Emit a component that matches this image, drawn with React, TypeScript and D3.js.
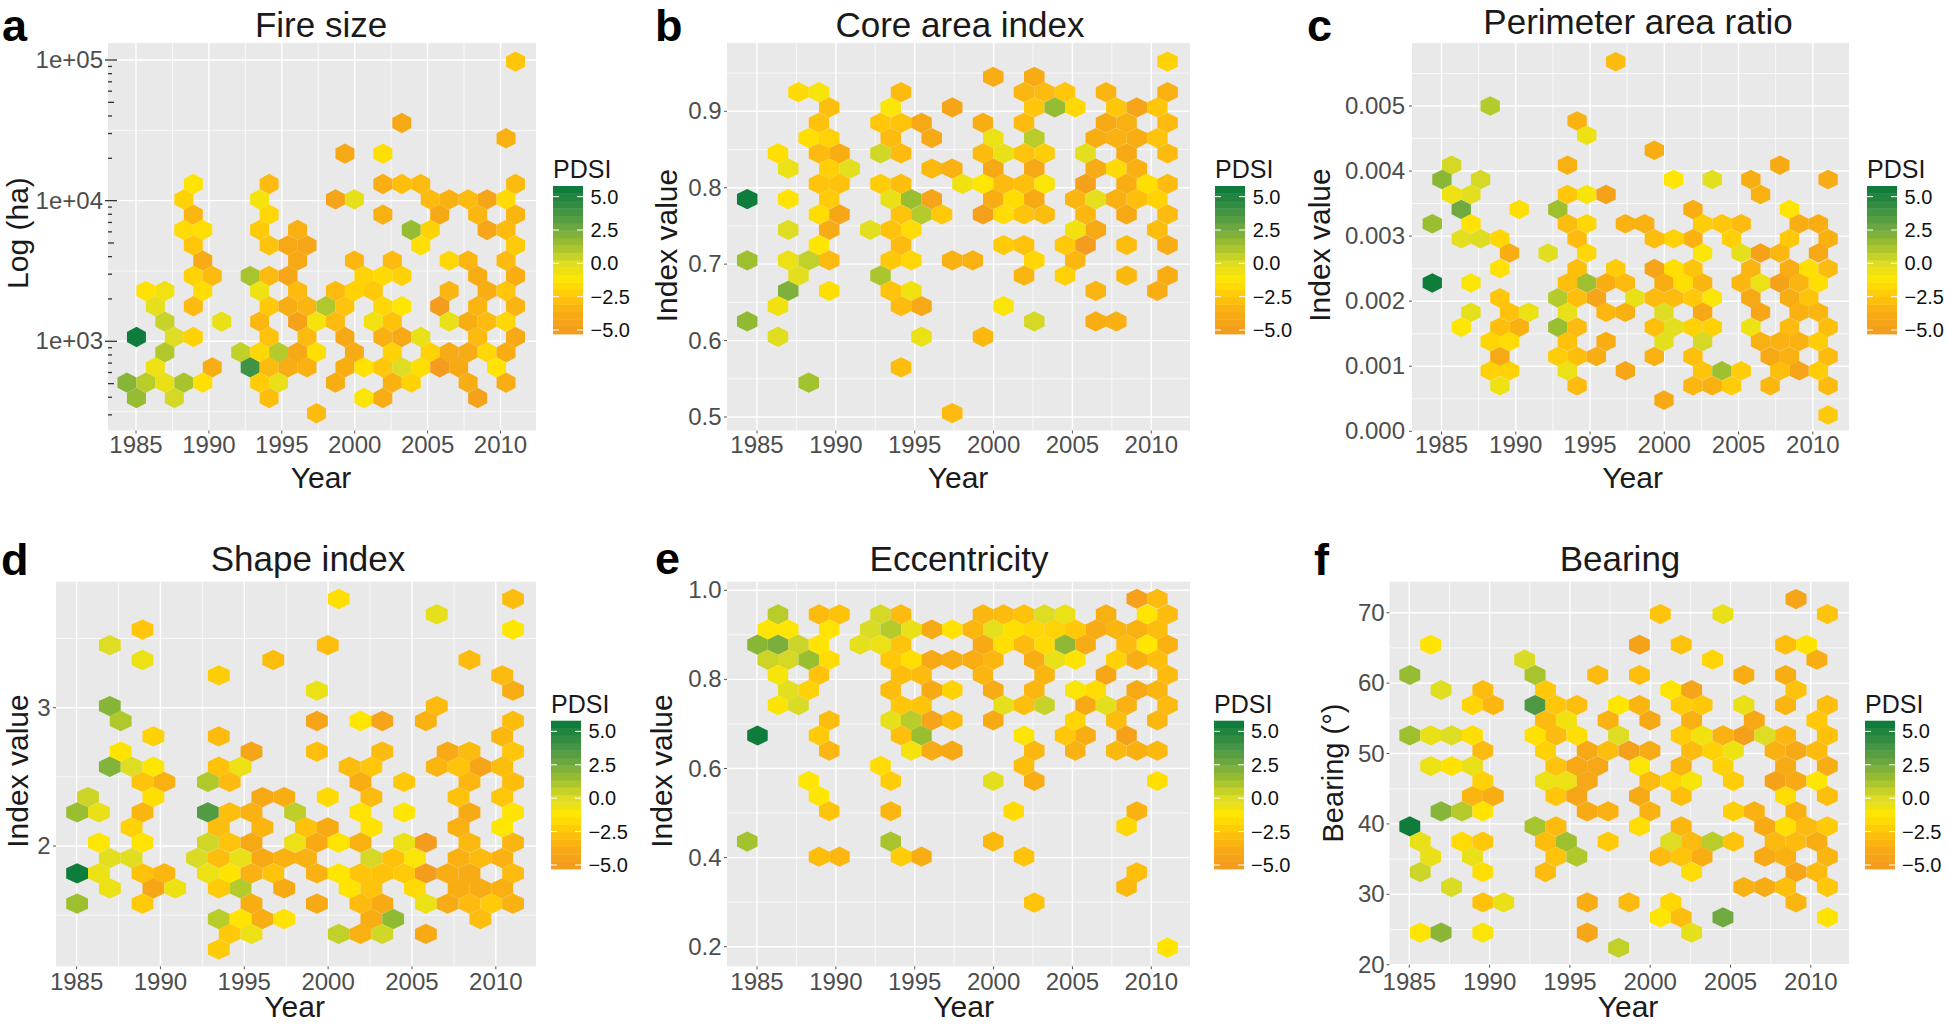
import React from "react";
import * as d3 from "d3";

// Each row: [y value of the hexagon row, bin, PDSI, bin, PDSI, ...]
const fireSizeRows: number[][] = [
  [97300, 40, -2.5],
  [35650, 28, -4],
  [27750, 39, -3.5],
  [21600, 22, -4, 26, -1.5],
  [13130, 6, -1.3, 14, -3, 26, -3.6, 28, -2.8, 30, -3, 40, -3],
  [10220, 5, -2, 13, -0.8, 21, -4.4, 23, -0.3, 31, -3, 33, -3.5, 35, -3, 37, -4.3, 39, -1.7],
  [7950, 6, -3.2, 14, -1.8, 26, -3.5, 32, -4, 36, -3.2, 40, -3.3],
  [6190, 5, -1.7, 7, -1.5, 13, -2.3, 17, -3.5, 29, 1.6, 31, -2, 37, -4.2, 39, -3],
  [4810, 6, -2.5, 14, -2.6, 16, -4, 18, -4.2, 30, -1.5, 40, -2.3],
  [3745, 7, -3.8, 17, -4, 23, -3.2, 27, -3, 33, -1.8, 35, -3.2, 39, -3],
  [2915, 6, -2, 8, -3, 12, 1.2, 14, -3, 16, -4.2, 24, -2, 26, -1.7, 28, -2, 36, -3.6, 40, -3.6],
  [2280, 1, -1.4, 3, -0.7, 7, -1.6, 13, -0.6, 17, -3, 21, -3, 23, -2, 25, -2.4, 33, -3.3, 37, -3.7, 39, -2.5],
  [1775, 2, -0.3, 6, -3, 14, -2.4, 16, -3.6, 18, -3.3, 20, 1, 22, -2.6, 26, -1.8, 28, -1.2, 32, -5, 36, -3.3, 40, -3.3],
  [1380, 3, 0.5, 9, -0.4, 13, -3.2, 17, -4.6, 19, -0.8, 21, -3, 25, -0.7, 27, -2.7, 33, -0.4, 35, -3.6, 37, -3, 39, -1.8],
  [1073, 0, 5.6, 4, 0, 6, -2, 14, -2.7, 18, -3, 22, -4, 26, -3.5, 28, -4, 30, -0.4, 36, -3, 40, -3.9],
  [835, 3, 1, 11, 0.6, 13, -1.8, 15, 0.9, 17, -4, 19, -1.5, 23, -3.8, 27, -2, 31, -2, 33, -3.8, 35, -3.8, 37, -1.8, 39, -3.6],
  [653, 2, -0.6, 8, -3.7, 12, 4, 14, -3, 16, -3.6, 18, -3.4, 22, -3.6, 24, -1.4, 26, -2.5, 28, 0, 30, -1.5, 32, -5, 34, -3.9, 38, -1.3],
  [508, -1, 2, 1, 0.8, 3, -0.4, 5, 1.2, 7, -1.5, 13, -2.2, 15, -0.4, 21, -3.6, 27, -3.4, 29, -2, 35, -3.6, 39, -3.6],
  [395, 0, 1.6, 4, 0.2, 14, -2.8, 24, -1, 26, -3.7, 36, -4.6],
  [308, 19, -3],
];

const coreAreaRows: number[][] = [
  [0.965, 40, -2],
  [0.945, 23, -3.6, 27, -3.8],
  [0.925, 4, -1.7, 6, -0.9, 14, -3, 26, -3.2, 28, -3, 30, -2.5, 34, -3.3, 40, -3.5],
  [0.905, 7, -2.8, 13, -1, 19, -4.3, 27, -2.5, 29, 1.6, 31, -1.8, 35, -2.5, 37, -4.3, 39, -2.5],
  [0.885, 6, -2.7, 12, -2.5, 14, -2.6, 16, -4, 22, -3.6, 26, -3, 34, -3.9, 36, -3.5, 40, -3],
  [0.865, 5, -1.5, 7, -2, 13, -3, 17, -4, 23, -0.5, 27, 0.8, 33, -3.6, 35, -3.4, 37, -3.6, 39, -2.6],
  [0.845, 2, -1.5, 6, -3, 8, -3.7, 12, 0.3, 14, -3, 22, -3, 24, -0.4, 26, -2.6, 28, -2.2, 32, -0.2, 36, -4, 40, -3],
  [0.825, 3, -0.5, 7, -2.1, 9, -0.2, 17, -3.1, 19, -3.4, 23, -4, 27, -4, 33, -3.8, 35, -1.7, 37, -3.5],
  [0.805, 6, -2.6, 8, -2.7, 12, -2.2, 14, -2.8, 20, -0.7, 22, -1.2, 24, -3, 26, -2.8, 28, -1, 32, -4.6, 36, -3.6, 38, -1.5, 40, -3],
  [0.785, -1, 5.6, 3, -1.3, 7, -2.3, 13, -0.4, 15, 1.5, 17, -4.4, 23, -3.7, 25, -1.6, 27, -3.9, 31, -3.3, 33, -0.3, 35, -3.5, 37, -2.8, 39, -2],
  [0.765, 6, -1.6, 8, -4.2, 14, -2.6, 16, 0.9, 18, -2.4, 22, -4.7, 24, -1.6, 26, -2.6, 28, -2.9, 32, -3.2, 36, -4, 40, -3],
  [0.745, 3, 0, 7, -3.8, 11, -0.2, 13, -2.7, 15, -1.6, 31, -0.7, 33, -4, 39, -2.9],
  [0.725, 6, -1.2, 14, -3, 24, -2.3, 26, -2.7, 30, -2.4, 32, -5, 36, -2.9, 40, -3.7],
  [0.705, -1, 1.4, 3, -0.5, 5, 0.6, 7, -3, 13, -2.4, 15, -1.8, 19, -3.4, 21, -3.4, 27, -1.8, 31, -3.2],
  [0.685, 4, -0.2, 12, 1.1, 26, -3.3, 30, -2, 36, -3.1, 40, -3.6],
  [0.665, 3, 2.2, 7, -1.5, 13, -2.6, 15, -0.7, 33, -3.3, 39, -3.6],
  [0.645, 2, -0.7, 14, -3, 16, -4.1, 24, -1],
  [0.625, -1, 1.7, 27, 0.2, 33, -3.7, 35, -3.5],
  [0.605, 2, -0.1, 16, -0.5, 22, -3.1],
  [0.565, 14, -2.9],
  [0.545, 5, 1.3],
  [0.505, 19, -3],
];

const perimeterRows: number[][] = [
  [0.00568, 18, -3],
  [0.005, 5, 0.9],
  [0.00477, 14, -3.4],
  [0.00455, 15, -0.6],
  [0.00432, 22, -3.7],
  [0.00409, 1, 0.2, 13, -3.5, 35, -3.9],
  [0.00387, 0, 1.9, 4, 0.2, 24, -1.2, 28, -0.2, 32, -3.6, 40, -3.8],
  [0.00364, 1, -0.6, 3, -0.2, 13, -2.5, 15, -0.9, 17, -4.5, 33, -3.5],
  [0.00341, 2, 2.6, 8, -1.5, 12, 1.4, 26, -3.6, 36, -1.3],
  [0.00319, -1, 1.5, 3, -1.4, 13, -2.9, 15, -1.8, 19, -3.4, 21, -3.4, 27, -2.2, 29, -2.5, 31, -3, 37, -3.6, 39, -3.6],
  [0.00296, 2, -0.2, 4, 0, 6, -1.8, 14, -3, 22, -2.9, 24, -2, 26, -3.4, 30, -2.1, 36, -2.4, 40, -3.5],
  [0.00274, 7, -3.6, 11, -0.1, 15, -1.8, 27, -1, 31, -0.3, 33, -4.5, 35, -3.2, 39, -4],
  [0.0025, 6, -1.4, 14, -2.8, 18, -2.3, 22, -4.4, 24, -1.5, 26, -2.6, 32, -3.3, 36, -3.6, 38, -1.5, 40, -3],
  [0.00228, -1, 5.6, 3, -1, 13, -2.8, 15, 1.4, 17, -3.6, 19, -3, 23, -3.7, 25, -1.5, 27, -3.3, 31, -3.2, 33, -0.5, 35, -4.5, 37, -3.3, 39, -1.5],
  [0.00205, 6, -2.5, 12, 0.9, 14, -2.8, 16, -4.3, 20, -0.4, 22, -3, 24, -3, 26, -2.4, 28, -1, 32, -4, 36, -3.7, 38, -2.6],
  [0.00183, 3, -0.3, 7, -2.7, 9, -0.5, 13, -0.4, 17, -3.2, 19, -3.5, 23, 0, 27, -4, 33, -4.2, 37, -3.5, 39, -3.2],
  [0.0016, 2, -1.2, 6, -2.8, 8, -3.5, 12, 1.5, 14, -3, 22, -2.8, 24, -0.2, 26, -2, 28, -2, 32, -0.6, 36, -3, 40, -2.8],
  [0.00138, 5, -1.9, 7, -1.6, 13, -2.7, 17, -3.7, 23, -0.2, 27, 0.2, 33, -3.5, 35, -3.4, 37, -3.4, 39, -2.2],
  [0.00115, 6, -4, 12, -2.2, 14, -2.8, 16, -3.6, 22, -3.5, 26, -2.8, 34, -4, 36, -3.5, 40, -3],
  [0.00093, 5, -2, 7, -2, 13, -0.5, 19, -4.2, 27, -2.6, 29, 1.4, 31, -2.2, 35, -2.8, 37, -4.3, 39, -2.2],
  [0.0007, 6, -0.6, 14, -3, 26, -3.2, 28, -3.5, 30, -2.2, 34, -3.2, 40, -3],
  [0.00048, 23, -4],
  [0.00025, 40, -2.4],
];

const shapeRows: number[][] = [
  [3.786, 24, -1.5, 40, -2.9],
  [3.675, 33, -0.3],
  [3.564, 6, -2.5, 40, -1.2],
  [3.453, 3, 0, 23, -2.8],
  [3.345, 6, -0.5, 18, -2.9, 36, -3],
  [3.234, 13, -2.2, 39, -3],
  [3.123, 22, -0.5, 40, -3.6],
  [3.012, 3, 2, 33, -3],
  [2.904, 4, 1, 22, -4.3, 26, -1.2, 28, -4.4, 32, -3.4, 40, -2.9],
  [2.793, 7, -2, 13, -3, 39, -3.2],
  [2.682, 4, -1.3, 16, -4.3, 22, -2.8, 28, -3, 34, -3.9, 36, -3, 40, -2.5],
  [2.573, 3, 2.1, 5, 0, 7, -1.2, 13, -2.7, 15, -0.5, 25, -2.9, 27, -2.5, 33, -3.3, 35, -2.6, 37, -4.3, 39, -2.9],
  [2.463, 6, -2.6, 8, -3.5, 12, 1, 14, -3, 26, -3.7, 30, -2.4, 36, -3.2, 40, -2.9],
  [2.354, 1, 0.4, 7, -1.5, 17, -4, 19, -3.6, 23, -1.7, 27, -3, 35, -2.7, 39, -2.5],
  [2.243, 0, 1.5, 2, -0.4, 6, -3.3, 12, 3.5, 14, -2.8, 16, -3.4, 20, 0.7, 26, -1.3, 30, -1.2, 36, -3.9, 40, -1.3],
  [2.135, 5, -2, 13, -2.9, 17, -3.3, 21, -2.7, 23, -3.9, 27, -1.4, 35, -3.5, 39, -1.2],
  [2.024, 2, -1.2, 6, -1.3, 12, 0.3, 14, -2.6, 16, -4, 20, -0.5, 22, -3.9, 24, -1.3, 26, -3.5, 30, -0.5, 32, -5, 36, -3.1, 40, -3.3],
  [1.913, 3, -0.2, 5, -0.1, 11, 0.1, 13, -2.9, 15, -0.4, 17, -4, 19, -3.5, 21, -3.4, 27, 0.2, 29, -2.7, 31, -1, 35, -3.5, 37, -3, 39, -3.4],
  [1.802, 0, 5.6, 2, -0.5, 6, -2.7, 8, -3.2, 12, -0.5, 14, -1.3, 16, -3.4, 18, -2.6, 22, -3.4, 24, -1.2, 26, -2.6, 28, -2.7, 30, -2.3, 32, -5, 34, -3.6, 36, -3.8, 40, -3],
  [1.694, 3, -0.5, 7, -4.2, 9, -0.6, 13, -2.3, 15, 0.9, 19, -3.9, 25, -1.3, 27, -2.6, 31, -1.7, 35, -3.7, 37, -3.8, 39, -3.5],
  [1.583, 0, 1.4, 6, -2.3, 16, -3.7, 22, -3.9, 26, -3, 28, -3.9, 32, -0.5, 34, -3.8, 36, -3, 38, -2.3, 40, -3.4],
  [1.472, 13, 0.8, 15, -1.3, 17, -3.7, 19, -1.3, 27, -3.6, 29, 1.7, 37, -2.9],
  [1.364, 14, -2.4, 16, -0.5, 24, 0.6, 26, -3.5, 28, 0.3, 32, -3.9],
  [1.253, 13, -2.3],
];

const eccentricityRows: number[][] = [
  [0.981, 37, -4.6, 39, -3],
  [0.946, 2, 0.8, 6, -3, 8, -2.7, 12, 0.2, 14, -3, 22, -3.2, 24, -3, 26, -2.7, 28, 0, 30, -0.5, 34, -3.5, 38, -1.3, 40, -3],
  [0.912, 1, -1.2, 3, -1.2, 7, -1.3, 11, 0.1, 13, 0.9, 15, -0.4, 17, -3.9, 19, -1.4, 21, -3.2, 23, -0.3, 25, -1.5, 27, -1.8, 29, -2, 31, -2.4, 33, -3.8, 35, -3.3, 37, -3.5, 39, -2.9],
  [0.878, 0, 1.9, 2, 2.3, 4, 0.4, 6, -1.3, 10, -0.3, 12, -0.5, 14, -2.6, 22, -3.9, 24, -1.5, 26, -3, 28, -1.7, 30, 1.8, 32, -3.8, 36, -3, 38, -1.2, 40, -3.5],
  [0.844, 1, 0.4, 3, 0.2, 5, 1.5, 7, -1.6, 13, -2.4, 15, -1.5, 17, -4, 19, -3.6, 21, -3.6, 23, -3.2, 27, -3.7, 29, -0.4, 31, -1.3, 35, -2, 37, -3.6, 39, -2.9],
  [0.81, 2, -0.9, 6, -2.7, 14, -2.9, 16, -3, 22, -3.3, 28, -3.3, 34, -4.2, 40, -3],
  [0.776, 3, -0.2, 5, -2, 13, -2.9, 17, -3.9, 19, -2, 23, -3.8, 27, -3.2, 31, -1, 33, -1.6, 37, -4, 39, -3.3],
  [0.742, 2, -1, 4, 0.1, 14, -2.5, 16, -2.6, 24, -0.3, 26, -2.8, 28, 0.5, 32, -4, 34, -0.2, 36, -3.4, 40, -3],
  [0.708, 7, -2.9, 13, -0.3, 15, 0.8, 17, -4.4, 19, -2.9, 23, -3.9, 31, -1.9, 35, -2.9, 39, -3.2],
  [0.674, 0, 5.6, 6, -2.3, 14, -2.8, 16, 1.5, 26, -1.1, 30, -2.5, 32, -3.7, 36, -4.6],
  [0.64, 7, -3.2, 15, -0.8, 17, -3.8, 19, -4, 27, -3.2, 31, -3.4, 35, -3.1, 37, -3.5, 39, -3.1],
  [0.606, 12, -1.6, 26, -2.8],
  [0.572, 5, -1.2, 13, -2.2, 23, -0.2, 27, -3.6, 39, -1.5],
  [0.538, 6, -1.2],
  [0.504, 7, -2.6, 13, -3.2, 25, -1.7, 37, -3.4],
  [0.47, 36, -1.8],
  [0.436, -1, 1.3, 13, 1.2, 23, -3.1],
  [0.402, 6, -2.9, 8, -3.2, 14, -2.2, 16, -3.6, 26, -2.6],
  [0.367, 37, -2.8],
  [0.334, 36, -3.1],
  [0.299, 27, -2.6],
  [0.198, 40, -1.3],
];

const bearingRows: number[][] = [
  [71.94, 37, -4.3],
  [69.81, 24, -2.6, 30, -0.4, 40, -2.6],
  [65.45, 2, -1.3, 22, -4.5, 26, -2.6, 36, -2.8, 38, -1.3],
  [63.32, 11, 0.1, 29, -1.9, 39, -3.6],
  [61.15, 0, 1.6, 12, 1.2, 18, -3, 22, -2.8, 32, -3.6, 36, -3.7],
  [59.02, 3, -0.1, 7, -2.9, 13, -2.4, 25, -1.3, 27, -4.4, 37, -2.7],
  [56.88, 6, -1.9, 8, -3.2, 12, 3.6, 14, -2.5, 16, -2.8, 20, -1.2, 22, -3.3, 26, -2.2, 28, -2.4, 32, -0.4, 36, -3.3, 40, -2.8],
  [54.71, 13, -3, 15, -0.7, 19, -3.4, 23, -4, 27, -3.4, 33, -4, 39, -2.4],
  [52.58, 0, 1.4, 2, -0.4, 4, 0, 6, -1.5, 12, -1.4, 14, -3, 16, -1.5, 20, 0, 26, -2.2, 28, -0.7, 30, -3.4, 32, -4.7, 34, 0, 36, -3.2, 40, -2.7],
  [50.4, 7, -3, 13, -2, 17, -4, 19, -2.9, 21, -4.7, 23, -3.8, 27, -3, 29, -2, 31, -0.6, 35, -3.4, 37, -4, 39, -3],
  [48.22, 2, -0.5, 4, -1.4, 6, -0.4, 14, -2.6, 16, -4, 18, -4.1, 22, -1.1, 26, -3.3, 30, -2, 36, -3.8, 40, -3.7],
  [46.09, 7, -2, 13, -0.5, 15, -0.5, 17, -4.1, 23, -3, 25, -1.9, 27, -0.9, 31, -2.2, 35, -4.5, 37, -3.9, 39, -1.2],
  [43.96, 6, -3.3, 8, -3.7, 14, -2.5, 16, -4.2, 22, -3.9, 26, -2.8, 36, -1.6, 40, -2.8],
  [41.78, 3, 2, 5, 0.9, 7, -1.3, 17, -3.9, 19, -3.4, 23, -3.4, 31, -2.1, 33, -3.4, 37, -3.5],
  [39.65, 0, 5.6, 12, 1.2, 14, -3, 22, -1.6, 26, -3.2, 34, -3.9, 36, -1.5, 38, -3, 40, -2.3],
  [37.47, 1, -0.4, 5, -1.7, 7, -2.4, 13, -2.9, 15, 1.4, 19, -2.3, 25, 0, 27, -3, 29, 0.8, 31, -2.6, 35, -3.1, 37, -3, 39, -3.6],
  [35.34, 2, -0.4, 6, -0.4, 14, -2.6, 16, 1, 24, -3, 26, -2.6, 28, -3.7, 34, -3.9, 36, -3.5, 40, -3.3],
  [33.16, 1, 0.4, 7, -1.5, 13, -3, 27, -1.6, 37, -4.2, 39, -3],
  [31.03, 4, 0.1, 32, -3.4, 34, -3.8, 36, -2.8, 40, -2.5],
  [28.85, 7, -2.7, 9, -0.4, 17, -3.7, 21, -3, 25, -1.8, 37, -3.3],
  [26.72, 24, -1.2, 26, -2.9, 30, 2.6, 40, -1.3],
  [24.55, 1, -1.3, 3, 1.9, 7, -1, 17, -4.2, 27, -0.3],
  [22.41, 20, 0.6],
];

const yearTicks = [1985, 1990, 1995, 2000, 2005, 2010];
const yearMinorTicks = [1987.5, 1992.5, 1997.5, 2002.5, 2007.5];
const pdsiTicks = [5, 2.5, 0, -2.5, -5];
const pdsiStops = [-5.3, -3.6, -2.5, -1.2, 0, 1.5, 2.5, 4, 5.8];
const pdsiColors = ["#f39820", "#f8ae12", "#ffc60a", "#ffe600", "#dedd24", "#99be30", "#73ab40", "#3f9344", "#08793a"];

const color = d3.scaleLinear<string>().domain(pdsiStops).range(pdsiColors).clamp(true);
const FONT = "'Liberation Sans', Arial, sans-serif";

const binYear = (bin: number) => 1985.03 + 0.65 * bin;

const fmtUS = (v: number) => v.toFixed(1).replace("-", "\u2212");

type Cfg = {
  letter: string; lx: number; ly: number;
  title: string; tx: number; ty: number;
  yTitle: string; ytx: number; yty: number; ytSize: number;
  xTitleX: number; xTitleY: number; tickY: number;
  left: number; right: number; top: number; bottom: number;
  x0: number; x1: number;
  yScale: any; rowPx: number; rows: number[][];
  yTicks: number[]; yLabels: string[]; yMinor: number[]; yLabelX: number;
  logTicks?: number[]; logMid?: number[];
  legX: number; legTop: number; legBottom: number; legTitleY: number; legLabelX: number;
};

function Panel({ c }: { c: Cfg }) {
  const x = d3.scaleLinear().domain([1985, 2010]).range([c.x0, c.x1]);
  const hw = x(binYear(1)) - x(binYear(0));
  const r = c.rowPx;
  const hexPath = (cx: number, cy: number) => {
    const p = d3.path();
    p.moveTo(cx, cy - (2 / 3) * r);
    p.lineTo(cx + hw, cy - r / 3);
    p.lineTo(cx + hw, cy + r / 3);
    p.lineTo(cx, cy + (2 / 3) * r);
    p.lineTo(cx - hw, cy + r / 3);
    p.lineTo(cx - hw, cy - r / 3);
    p.closePath();
    return p.toString();
  };
  const hexes: { bin: number; value: number; pdsi: number }[] = [];
  c.rows.forEach((row) => {
    for (let i = 1; i < row.length; i += 2) hexes.push({ value: row[0], bin: row[i], pdsi: row[i + 1] });
  });
  const legY = d3.scaleLinear().domain([-5, 5]).range([c.legTop + (c.legBottom - c.legTop) * 0.973, c.legTop + (c.legBottom - c.legTop) * 0.0719]);
  const legDomainTop = legY.invert(c.legTop);
  const legDomainBottom = legY.invert(c.legBottom);
  const bands = d3.range(20).map((i) => legDomainBottom + ((legDomainTop - legDomainBottom) * i) / 20);
  const bandH = (c.legBottom - c.legTop) / 20;
  const legW = 30;
  return (
    <g>
      <text x={c.lx} y={c.ly} fontFamily={FONT} fontWeight="bold" fontSize={45} fill="#000">{c.letter}</text>
      <text x={c.tx} y={c.ty} textAnchor="middle" fontFamily={FONT} fontSize={35} fill="#1a1a1a">{c.title}</text>
      <rect x={c.left} y={c.top} width={c.right - c.left} height={c.bottom - c.top} fill="#e9e9e9" />
      {c.yMinor.filter((v) => c.yScale(v) > c.top && c.yScale(v) < c.bottom).map((v) => (
        <line key={"ym" + v} x1={c.left} x2={c.right} y1={c.yScale(v)} y2={c.yScale(v)} stroke="#fff" strokeWidth={0.7} />
      ))}
      {yearMinorTicks.map((v) => (
        <line key={"xm" + v} x1={x(v)} x2={x(v)} y1={c.top} y2={c.bottom} stroke="#fff" strokeWidth={0.7} />
      ))}
      {c.yTicks.map((v) => (
        <line key={"yg" + v} x1={c.left} x2={c.right} y1={c.yScale(v)} y2={c.yScale(v)} stroke="#fff" strokeWidth={1.4} />
      ))}
      {yearTicks.map((v) => (
        <line key={"xg" + v} x1={x(v)} x2={x(v)} y1={c.top} y2={c.bottom} stroke="#fff" strokeWidth={1.4} />
      ))}
      {hexes.map((h, i) => (
        <path key={i} d={hexPath(x(binYear(h.bin)), c.yScale(h.value))} fill={color(h.pdsi)} />
      ))}
      {yearTicks.map((v) => (
        <g key={"xt" + v}>
          <line x1={x(v)} x2={x(v)} y1={c.bottom} y2={c.bottom + 3} stroke="#555" strokeWidth={1} />
          <text x={x(v)} y={c.tickY} textAnchor="middle" fontFamily={FONT} fontSize={24} fill="#4d4d4d">{v}</text>
        </g>
      ))}
      {c.yTicks.map((v, i) => (
        <g key={"yt" + v}>
          {c.logTicks ? (
            <line x1={c.left - 3} x2={c.left + 9} y1={c.yScale(v)} y2={c.yScale(v)} stroke="#333" strokeWidth={1.3} />
          ) : (
            <line x1={c.left - 3} x2={c.left} y1={c.yScale(v)} y2={c.yScale(v)} stroke="#555" strokeWidth={1} />
          )}
          <text x={c.yLabelX} y={c.yScale(v) + 8} textAnchor="end" fontFamily={FONT} fontSize={24} fill="#4d4d4d">{c.yLabels[i]}</text>
        </g>
      ))}
      {(c.logTicks || []).map((v) => (
        <line key={"lt" + v} x1={c.left} x2={c.left + 4} y1={c.yScale(v)} y2={c.yScale(v)} stroke="#333" strokeWidth={1.3} />
      ))}
      {(c.logMid || []).map((v) => (
        <line key={"lm" + v} x1={c.left} x2={c.left + 6} y1={c.yScale(v)} y2={c.yScale(v)} stroke="#333" strokeWidth={1.3} />
      ))}
      <text x={c.xTitleX} y={c.xTitleY} textAnchor="middle" fontFamily={FONT} fontSize={30} fill="#1a1a1a">Year</text>
      <text transform={`translate(${c.ytx},${c.yty}) rotate(-90)`} textAnchor="middle" fontFamily={FONT} fontSize={c.ytSize} fill="#1a1a1a">{c.yTitle}</text>
      <text x={c.legX} y={c.legTitleY} fontFamily={FONT} fontSize={25} fill="#1a1a1a">PDSI</text>
      {bands.map((b, i) => (
        <rect key={"b" + i} x={c.legX} width={legW} y={c.legBottom - (i + 1) * bandH} height={bandH + 0.4} fill={color(b + (legDomainTop - legDomainBottom) / 40)} />
      ))}
      {pdsiTicks.map((v) => (
        <g key={"lg" + v}>
          <line x1={c.legX} x2={c.legX + 6} y1={legY(v)} y2={legY(v)} stroke="#fff" strokeWidth={1} />
          <line x1={c.legX + legW - 6} x2={c.legX + legW} y1={legY(v)} y2={legY(v)} stroke="#fff" strokeWidth={1} />
          <text x={c.legLabelX} y={legY(v) + 7} fontFamily={FONT} fontSize={20} fill="#111">{fmtUS(v)}</text>
        </g>
      ))}
    </g>
  );
}

const logDecades = [100, 1000, 10000];
const logMinor = logDecades.flatMap((d) => [2, 3, 4, 6, 7, 8, 9].map((m) => m * d)).filter((v) => v >= 300);
const logMid = logDecades.map((d) => 5 * d);

const panels: Cfg[] = [
  {
    letter: "a", lx: 2, ly: 41, title: "Fire size", tx: 321, ty: 36.7,
    yTitle: "Log (ha)", ytx: 27.5, yty: 233, ytSize: 30, xTitleX: 321, xTitleY: 488, tickY: 453,
    left: 108, right: 536, top: 43, bottom: 430.5, x0: 136, x1: 500.5,
    yScale: d3.scaleLog().domain([1e3, 1e5]).range([341.3, 60]), rowPx: 15.29, rows: fireSizeRows,
    yTicks: [1e3, 1e4, 1e5], yLabels: ["1e+03", "1e+04", "1e+05"], yMinor: [10 ** 2.5, 10 ** 3.5, 10 ** 4.5], yLabelX: 103,
    logTicks: logMinor, logMid,
    legX: 553, legTop: 186, legBottom: 334, legTitleY: 178, legLabelX: 590.5,
  },
  {
    letter: "b", lx: 655, ly: 41, title: "Core area index", tx: 960, ty: 36.7,
    yTitle: "Index value", ytx: 677, yty: 245.5, ytSize: 30, xTitleX: 958, xTitleY: 488, tickY: 453,
    left: 727, right: 1190, top: 43, bottom: 430.5, x0: 757, x1: 1151.3,
    yScale: d3.scaleLinear().domain([0.5, 0.9]).range([417, 111.3]), rowPx: 15.2, rows: coreAreaRows,
    yTicks: [0.5, 0.6, 0.7, 0.8, 0.9], yLabels: ["0.5", "0.6", "0.7", "0.8", "0.9"], yMinor: [0.55, 0.65, 0.75, 0.85, 0.95], yLabelX: 721.5,
    legX: 1215, legTop: 186, legBottom: 334, legTitleY: 178, legLabelX: 1252.7,
  },
  {
    letter: "c", lx: 1307, ly: 41, title: "Perimeter area ratio", tx: 1638, ty: 33.5,
    yTitle: "Index value", ytx: 1330, yty: 245, ytSize: 30, xTitleX: 1632.6, xTitleY: 488, tickY: 453,
    left: 1412, right: 1849, top: 43, bottom: 431.5, x0: 1441.5, x1: 1812.8,
    yScale: d3.scaleLinear().domain([0, 0.005]).range([431.3, 106]), rowPx: 14.73, rows: perimeterRows,
    yTicks: [0, 0.001, 0.002, 0.003, 0.004, 0.005], yLabels: ["0.000", "0.001", "0.002", "0.003", "0.004", "0.005"], yMinor: [0.0005, 0.0015, 0.0025, 0.0035, 0.0045, 0.0055], yLabelX: 1405,
    legX: 1867, legTop: 186, legBottom: 334, legTitleY: 178, legLabelX: 1904.5,
  },
  {
    letter: "d", lx: 1, ly: 575, title: "Shape index", tx: 308, ty: 570.7,
    yTitle: "Index value", ytx: 27.5, yty: 771, ytSize: 30, xTitleX: 294.6, xTitleY: 1017, tickY: 990,
    left: 56, right: 536, top: 581.7, bottom: 966.3, x0: 76.6, x1: 495.8,
    yScale: d3.scaleLinear().domain([2, 3]).range([846, 707.7]), rowPx: 15.23, rows: shapeRows,
    yTicks: [2, 3], yLabels: ["2", "3"], yMinor: [1.5, 2.5, 3.5], yLabelX: 50.5,
    legX: 551, legTop: 720.7, legBottom: 869, legTitleY: 713, legLabelX: 588.4,
  },
  {
    letter: "e", lx: 655, ly: 574, title: "Eccentricity", tx: 959, ty: 570.7,
    yTitle: "Index value", ytx: 672, yty: 771, ytSize: 30, xTitleX: 963.6, xTitleY: 1017, tickY: 990,
    left: 727, right: 1190, top: 581.7, bottom: 966.3, x0: 757, x1: 1151.3,
    yScale: d3.scaleLinear().domain([0.2, 1]).range([946.7, 590.3]), rowPx: 15.13, rows: eccentricityRows,
    yTicks: [0.2, 0.4, 0.6, 0.8, 1], yLabels: ["0.2", "0.4", "0.6", "0.8", "1.0"], yMinor: [0.3, 0.5, 0.7, 0.9], yLabelX: 721.5,
    legX: 1214, legTop: 720.7, legBottom: 869, legTitleY: 713, legLabelX: 1251,
  },
  {
    letter: "f", lx: 1314, ly: 575, title: "Bearing", tx: 1620, ty: 570.7,
    yTitle: "Bearing (°)", ytx: 1342.5, yty: 773, ytSize: 29, xTitleX: 1628, xTitleY: 1017, tickY: 990,
    left: 1389.5, right: 1849, top: 581.7, bottom: 964.7, x0: 1409.3, x1: 1810.8,
    yScale: d3.scaleLinear().domain([20, 70]).range([964.7, 612.7]), rowPx: 15.16, rows: bearingRows,
    yTicks: [20, 30, 40, 50, 60, 70], yLabels: ["20", "30", "40", "50", "60", "70"], yMinor: [25, 35, 45, 55, 65], yLabelX: 1384.6,
    legX: 1865, legTop: 720.7, legBottom: 869, legTitleY: 713, legLabelX: 1902,
  },
];

export default function App() {
  return (
    <svg width={1947} height={1024} viewBox="0 0 1947 1024" style={{ position: "absolute", left: 0, top: 0, background: "#fff" }}>
      {panels.map((c) => <Panel key={c.letter} c={c} />)}
    </svg>
  );
}
